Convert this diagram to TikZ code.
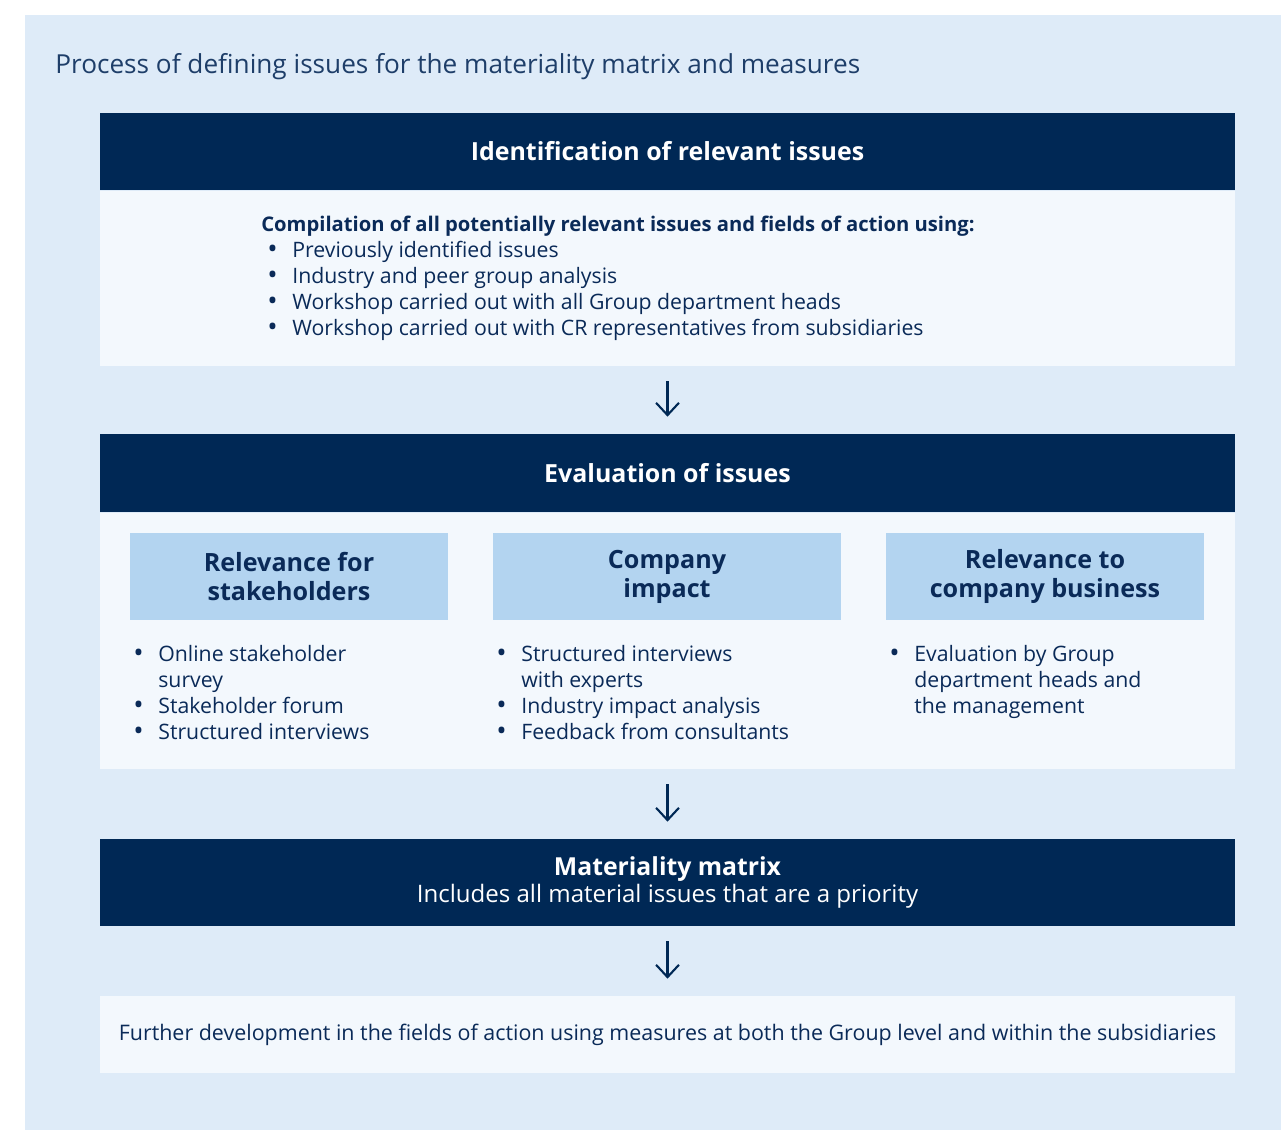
\documentclass[tikz,border=0pt]{standalone}
\usepackage{fontspec}
\setmainfont{Open Sans}
\usetikzlibrary{arrows.meta,positioning}

\definecolor{colNavy}{RGB}{0, 40, 85}
\definecolor{colPage}{RGB}{222, 235, 248}
\definecolor{colPanel}{RGB}{243, 248, 253}
\definecolor{colTab}{RGB}{179, 212, 240}
\definecolor{colText}{RGB}{10, 42, 88}
\definecolor{colTitle}{RGB}{30, 62, 105}

% bullet with a fixed gap, and the indent of a wrapped line
\newcommand{\blt}{\makebox[0.5cm][l]{\raisebox{-0.05em}{\scalebox{1.3}{\textbullet}}}}
\newcommand{\bcont}{\hspace*{0.5cm}}

\begin{document}
\begin{tikzpicture}[x=0.02cm, y=-0.02cm, >={Straight Barb[length=7pt, width=13pt, line width=1.2pt]}]

  % Page and light blue background (1 unit = 1 px of the layout)
  \useasboundingbox[fill=white] (0,0) rectangle (1281,1130);
  \fill[colPage] (25,15) rectangle (1281,1130);

  \tikzset{
    head/.style={
      fill=colNavy, text=white, inner sep=0pt,
      minimum width=22.7cm, align=center
    },
    panel/.style={
      fill=colPanel, inner sep=0pt, minimum width=22.7cm
    },
    tab/.style={
      fill=colTab, text=colText, inner sep=0pt, minimum height=1.74cm,
      align=center, font=\bfseries\fontsize{14.3}{16.5}\selectfont
    },
    listtext/.style={
      text=colText, inner sep=0pt, align=left,
      font=\fontsize{12.1}{14.7}\selectfont
    },
    flow/.style={
      ->, colNavy, line width=1.2pt, shorten <=0.3cm, shorten >=0.34cm
    }
  }

  % Title
  \node[anchor=west, text=colTitle, inner sep=0pt, font=\fontsize{14.9}{17}\selectfont]
    (title) at (55,67) {Process of defining issues for the materiality matrix and measures};

  % --- Step 1: identification ---
  \node[head, minimum height=1.54cm, font=\bfseries\fontsize{14.2}{16}\selectfont]
    (identHead) at (667.5,151.5) {Identification of relevant issues};
  \node[panel, minimum height=3.5cm, below=0pt of identHead] (identBody) {};

  \node[listtext, anchor=north west] (identList) at (261,216) {%
    {\bfseries\fontsize{11.5}{14.5}\selectfont Compilation of all potentially relevant issues and fields of action using:}\\
    \hspace*{0.12cm}\blt Previously identified issues\\
    \hspace*{0.12cm}\blt Industry and peer group analysis\\
    \hspace*{0.12cm}\blt Workshop carried out with all Group department heads\\
    \hspace*{0.12cm}\blt Workshop carried out with CR representatives from subsidiaries};

  % --- Step 2: evaluation ---
  \node[head, minimum height=1.56cm, font=\bfseries\fontsize{14.2}{16}\selectfont]
    (evalHead) at (667.5,473) {Evaluation of issues};
  \node[panel, minimum height=5.12cm, below=0pt of evalHead] (evalBody) {};

  \node[tab, minimum width=6.36cm] (tabStake)    at (289,576.5)  {Relevance for\\stakeholders};
  \node[tab, minimum width=6.96cm] (tabImpact)   at (667,576.5)  {Company\\impact};
  \node[tab, minimum width=6.36cm] (tabBusiness) at (1045,576.5) {Relevance to\\company business};

  \node[listtext, anchor=north west] (stakeList) at (133,645) {%
    \blt Online stakeholder\\
    \bcont survey\\
    \blt Stakeholder forum\\
    \blt Structured interviews};
  \node[listtext, anchor=north west] (impactList) at (496,645) {%
    \blt Structured interviews\\
    \bcont with experts\\
    \blt Industry impact analysis\\
    \blt Feedback from consultants};
  \node[listtext, anchor=north west] (businessList) at (889,645) {%
    \blt Evaluation by Group\\
    \bcont department heads and\\
    \bcont the management};

  % --- Step 3: materiality matrix ---
  \node[head, minimum height=1.74cm, font=\fontsize{13.7}{15.3}\selectfont]
    (matrixHead) at (667.5,882.5)
    {{\bfseries\fontsize{14.1}{15.3}\selectfont Materiality matrix}\\
     Includes all material issues that are a priority};

  % --- Step 4: measures ---
  \node[panel, minimum height=1.54cm, text=colText, font=\fontsize{12.2}{14.5}\selectfont]
    (measures) at (667.5,1034.5)
    {Further development in the fields of action using measures at both the Group level and within the subsidiaries};

  % Flow arrows
  \draw[flow] (identBody) -- (evalHead);
  \draw[flow] (evalBody) -- (matrixHead);
  \draw[flow] (matrixHead) -- (measures);

\end{tikzpicture}
\end{document}
